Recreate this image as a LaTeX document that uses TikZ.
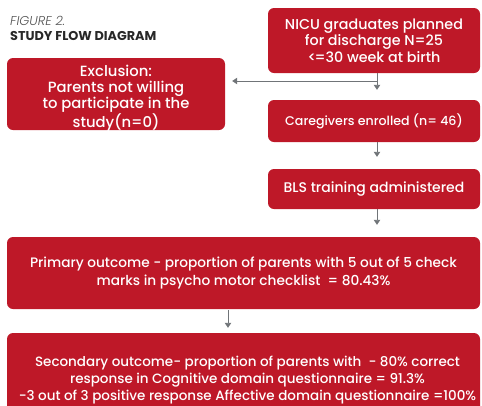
\documentclass[tikz,border=0pt]{standalone}
\usepackage{fontspec}
\setmainfont{Poppins}
\newfontfamily\boxfont{Poppins Medium}
\newfontfamily\headfont{Poppins Light Italic}
\usetikzlibrary{arrows.meta}
\definecolor{boxred}{RGB}{190,24,40}
\definecolor{arrowgrey}{RGB}{112,116,120}
\definecolor{titlegrey}{RGB}{40,40,40}
% font size and leading for box texts
\newcommand{\boxsize}[2]{\fontsize{#1}{#2}\selectfont}
\tikzset{
  flowbox/.style={fill=boxred, draw=none, rounded corners=6pt, text=white,
    align=center, inner sep=0pt, font=\boxfont\boxsize{14}{16.5}},
  boxtext/.style={text=white, align=center, inner sep=0pt},
  flowarrow/.style={draw=arrowgrey, line width=0.9pt,
    -{Triangle[width=6.5pt,length=5pt]}},
}
\begin{document}
\begin{tikzpicture}[x=1pt,y=-1pt]
  \useasboundingbox (0,0) rectangle (482,405);
  \clip (0,0) rectangle (482,405);

  % heading
  \node[anchor=base west, inner sep=0pt, text=titlegrey!80,
        font=\headfont\fontsize{12.8}{14}\selectfont] (fig) at (10,25) {FIGURE 2.};
  \node[anchor=base west, inner sep=0pt, text=titlegrey,
        font=\fontsize{12.8}{14}\selectfont\bfseries] (ttl) at (10,40) {STUDY FLOW DIAGRAM};

  % boxes
  \node[flowbox, font=\boxfont\boxsize{14.3}{16.5}, minimum width=212pt, minimum height=65pt] (nicu) at (374,40.5)
    {NICU graduates planned\\for discharge N=25\\<\kern-1.8pt=30 week at birth};
  \node[flowbox, minimum width=218pt, minimum height=72pt] (excl) at (116,94) {};
  \node[boxtext, font=\boxfont\boxsize{14.8}{16.3}, yshift=-4pt] (excltext) at (excl.center)
    {Exclusion:\\Parents not willing\\to participate in the\\study(n=0)};
  \node[flowbox, font=\boxfont\boxsize{12.6}{16.5}, minimum width=212pt, minimum height=42pt] (care) at (374,121)
    {Caregivers enrolled (n= 46)};
  \node[flowbox, minimum width=212pt, minimum height=40pt] (bls) at (374,189)
    {BLS training administered};
  \node[flowbox, font=\boxfont\boxsize{13.7}{18}, minimum width=473pt, minimum height=72pt] (prim) at (243.5,273)
    {Primary outcome - proportion of parents with 5 out of 5 check\\marks in psycho motor checklist \ = 80.43\%};
  \node[flowbox, minimum width=473pt, minimum height=84pt] (sec) at (243.5,375) {};
  \node[boxtext, font=\boxfont\boxsize{13.5}{16.7}, xshift=4pt, yshift=-5pt] (sectext) at (sec.center)
    {Secondary outcome- proportion of parents with \ - 80\% correct\\response in Cognitive domain questionnaire = 91.3\%\\-3 out of 3 positive response Affective domain questionnaire =100\%};

  % connectors
  \coordinate (col) at (377,0);
  \coordinate (split) at (377,81);
  \draw[flowarrow, shorten >=10pt] (nicu.south -| col) -- (care.north -| col);
  \draw[flowarrow, shorten >=7pt] (split) -- (split -| excl.east);
  \draw[flowarrow, shorten >=12pt] (care.south -| col) -- (bls.north -| col);
  \draw[flowarrow, shorten >=12pt] (bls.south -| col) -- (prim.north -| col);
  \coordinate (mid) at (228,0);
  \draw[flowarrow, shorten >=5pt, shorten <=1pt] (prim.south -| mid) -- (sec.north -| mid);
\end{tikzpicture}
\end{document}
